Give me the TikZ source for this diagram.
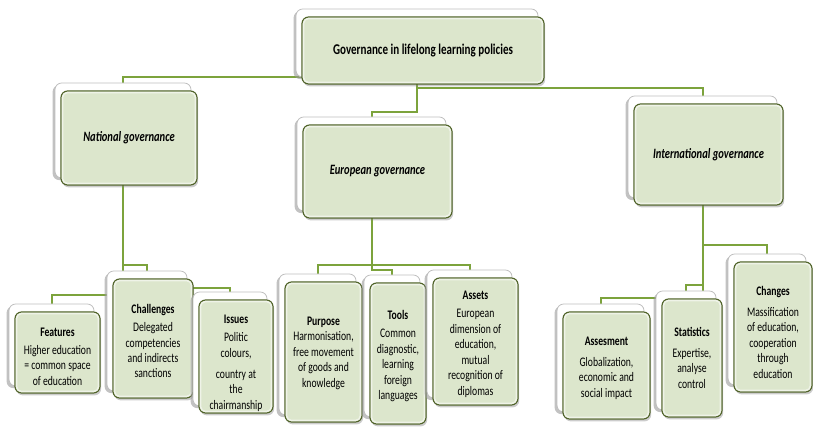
\documentclass[tikz,border=0pt]{standalone}
\usepackage{fontspec}
\setmainfont{Carlito}[FakeStretch=0.74]
\usetikzlibrary{fit,shadows}

\definecolor{boxfill}{RGB}{220,230,204}
\definecolor{boxline}{RGB}{79,98,40}
\definecolor{linkgreen}{RGB}{124,163,60}
\definecolor{cardedge}{RGB}{190,190,190}

\pgfdeclarelayer{links}
\pgfsetlayers{links,main}

\tikzset{
  backcard/.style={draw=cardedge, fill=white, rounded corners=5pt, inner sep=0pt,
    line width=0.6pt,
    drop shadow={shadow xshift=-1.8pt, shadow yshift=-1.6pt, fill=gray!80, opacity=0.6}},
  frontbox/.style={draw=boxline, fill=boxfill, rounded corners=5pt, inner sep=0pt,
    line width=0.9pt,
    drop shadow={shadow xshift=0.9pt, shadow yshift=-1.8pt, opacity=0.4}},
  bevel/.style={draw=white, opacity=0.55, line width=1.2pt, rounded corners=3.5pt},
  conn/.style={draw=linkgreen, line width=1.5pt},
  boxtext/.style={align=center, inner sep=0pt, font=\fontsize{9.8}{11.6}\selectfont},
  headtext/.style={align=center, inner sep=0pt, font=\fontsize{11.2}{13}\selectfont\bfseries},
  unittext/.style={align=center, inner sep=0pt, font=\fontsize{10.7}{13}\selectfont\bfseries\itshape},
}

% #1 name, #2-#5 front box corners (x1,y1,x2,y2), #6 text style, #7 text, #8 vertical text offset
\newcommand\gbox[8]{%
  \node[backcard, fit={(#2-6,#3-8) (#4-6,#5-7)}] (#1b) {};
  \node[frontbox, fit={(#2,#3) (#4,#5)}] (#1) {};
  \draw[bevel] ([shift={(1.6pt,-1.6pt)}]#1.north west) rectangle ([shift={(-1.6pt,1.6pt)}]#1.south east);
  \node[#6] (#1t) at ([yshift=#8]#1.center) {#7};
}

\begin{document}
\begin{tikzpicture}[x=0.75pt,y=-0.75pt]
\useasboundingbox (0,0) rectangle (813,427);

% top
\gbox{top}{302}{17}{544}{84}{headtext}{Governance in lifelong learning policies}{0pt}

% first tier
\gbox{nat}{61}{91}{197}{185}{unittext}{National governance}{0pt}
\gbox{eur}{303}{125}{452}{218}{unittext}{European governance}{0pt}
\gbox{int}{634}{104}{783}{205}{unittext}{International governance}{0pt}

% national branch
\gbox{fea}{15}{312}{100}{393}{boxtext}{\textbf{Features}\\[2pt]Higher education\\= common space\\of education}{-3pt}
\gbox{cha}{113}{279}{193}{398}{boxtext}{\textbf{Challenges}\\[2pt]Delegated\\competencies\\and indirects\\sanctions}{-2pt}
\gbox{iss}{199}{300}{273}{413}{boxtext}{\textbf{Issues}\\[2pt]Politic\\colours,\\[4pt]country at\\the\\chairmanship}{-5pt}

% european branch
\gbox{pur}{285}{282}{362}{422}{boxtext}{\textbf{Purpose}\\Harmonisation,\\free movement\\of goods and\\knowledge}{-1pt}
\gbox{too}{370}{283}{426}{424}{boxtext}{\textbf{Tools}\\[2pt]Common\\diagnostic,\\learning\\foreign\\languages}{-2pt}
\gbox{ass}{433}{278}{518}{405}{boxtext}{\textbf{Assets}\\[2pt]European\\dimension of\\education,\\mutual\\recognition of\\diplomas}{-2pt}

% international branch
\gbox{ase}{563}{312}{650}{419}{boxtext}{\textbf{Assesment}\\[4pt]Globalization,\\economic and\\social impact}{-2pt}
\gbox{sta}{662}{299}{722}{417}{boxtext}{\textbf{Statistics}\\[4pt]Expertise,\\analyse\\control}{0pt}
\gbox{chg}{734}{262}{812}{392}{boxtext}{\textbf{Changes}\\[4pt]Massification\\of education,\\cooperation\\through\\education}{-4pt}

% elbow connectors, drawn beneath the boxes
\begin{pgfonlayer}{links}
  \draw[conn] (topb.center) -- (topb.center |- 0,77)  -| (natb.north);
  \draw[conn] (topb.center) -- (topb.center |- 0,88)  -| (intb.north);
  \draw[conn] (topb.center) -- (topb.center |- 0,112) -| (eurb.north);

  \draw[conn] (natb.center) -- (natb.center |- 0,265) -| (chab.north);
  \draw[conn] (natb.center) -- (natb.center |- 0,288) -| (issb.north);
  \draw[conn] (natb.center) -- (natb.center |- 0,295) -| (feab.north);

  \draw[conn] (eurb.center) -- (eurb.center |- 0,265) -| (purb.north);
  \draw[conn] (eurb.center) -- (eurb.center |- 0,270) -| (toob.north);
  \draw[conn] (eurb.center) -- (eurb.center |- 0,265) -| (assb.north);

  \draw[conn] (intb.center) -- (intb.center |- 0,245) -| (chgb.north);
  \draw[conn] (intb.center) -- (intb.center |- 0,285) -| (stab.north);
  \draw[conn] (intb.center) -- (intb.center |- 0,298) -| (aseb.north);
\end{pgfonlayer}
\end{tikzpicture}
\end{document}
